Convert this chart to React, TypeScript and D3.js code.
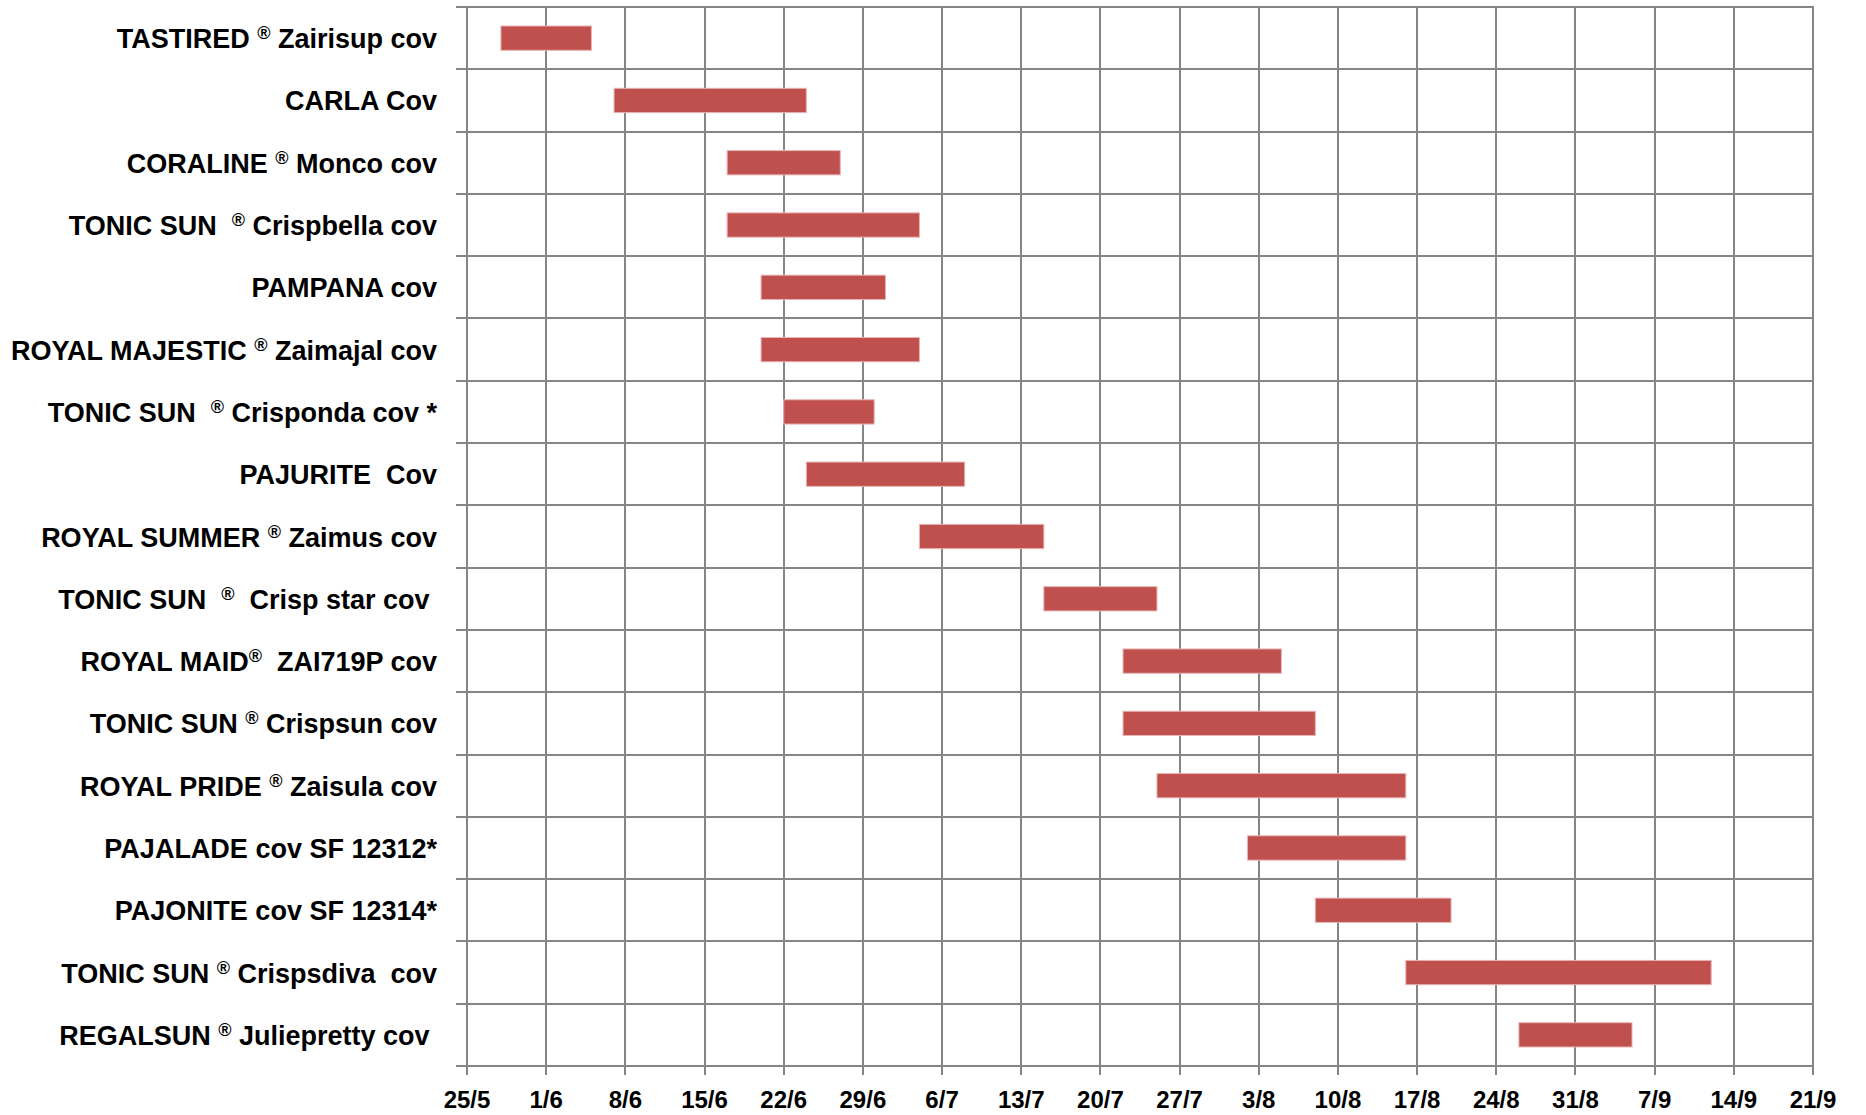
import { useEffect, useRef } from "react";
import * as d3 from "d3";

// varieties, top to bottom
const varieties = [
  "TASTIRED ® Zairisup cov",
  "CARLA Cov",
  "CORALINE ® Monco cov",
  "TONIC SUN  ® Crispbella cov",
  "PAMPANA cov",
  "ROYAL MAJESTIC ® Zaimajal cov",
  "TONIC SUN  ® Crisponda cov *",
  "PAJURITE  Cov",
  "ROYAL SUMMER ® Zaimus cov",
  "TONIC SUN  ®  Crisp star cov ",
  "ROYAL MAID®  ZAI719P cov",
  "TONIC SUN ® Crispsun cov",
  "ROYAL PRIDE ® Zaisula cov",
  "PAJALADE cov SF 12312*",
  "PAJONITE cov SF 12314*",
  "TONIC SUN ® Crispsdiva  cov",
  "REGALSUN ® Juliepretty cov ",
];

// harvest window (day/month)
const startDates = [
  "28/5", "7/6", "17/6", "17/6", "20/6", "20/6", "22/6", "24/6", "4/7",
  "15/7", "22/7", "22/7", "25/7", "2/8", "8/8", "16/8", "26/8",
];
const endDates = [
  "5/6", "24/6", "27/6", "4/7", "1/7", "4/7", "30/6", "8/7", "15/7",
  "25/7", "5/8", "8/8", "16/8", "16/8", "20/8", "12/9", "5/9",
];

const tickLabels = [
  "25/5", "1/6", "8/6", "15/6", "22/6", "29/6", "6/7", "13/7", "20/7",
  "27/7", "3/8", "10/8", "17/8", "24/8", "31/8", "7/9", "14/9", "21/9",
];

const parse = (s: string) => d3.utcParse("%d/%m/%Y")(`${s}/2013`) as Date;

export default function App() {
  const svgRef = useRef<SVGSVGElement>(null);
  const width = 1866;
  const height = 1115;

  useEffect(() => {
    if (!svgRef.current) return;
    const svg = d3.select(svgRef.current);
    svg.selectAll("*").remove();

    const left = 467;
    const right = 1813;
    const top = 7;
    const bottom = 1066;
    const grid = "#858585";
    const font = "'Liberation Sans', Arial, sans-serif";

    const ticks = tickLabels.map(parse);
    const x = d3
      .scaleUtc()
      .domain([ticks[0], ticks[ticks.length - 1]])
      .range([left, right]);
    const y = d3
      .scaleBand<string>()
      .domain(varieties)
      .range([top, bottom])
      .paddingInner(0.61)
      .paddingOuter(0.305);
    const rowStep = (bottom - top) / varieties.length;

    const g = svg.append("g");

    // vertical gridlines + x ticks
    g.selectAll("line.vgrid")
      .data(ticks)
      .join("line")
      .attr("x1", (d) => Math.round(x(d)))
      .attr("x2", (d) => Math.round(x(d)))
      .attr("y1", top)
      .attr("y2", bottom + 9)
      .attr("stroke", grid)
      .attr("stroke-width", 2);

    // horizontal gridlines + y ticks
    const rowEdges = d3.range(varieties.length + 1).map((i) => Math.round(top + i * rowStep));
    g.selectAll("line.hgrid")
      .data(rowEdges)
      .join("line")
      .attr("x1", left - 11)
      .attr("x2", right + 1)
      .attr("y1", (d) => d)
      .attr("y2", (d) => d)
      .attr("stroke", grid)
      .attr("stroke-width", 2);

    // bars
    g.selectAll("rect.bar")
      .data(varieties)
      .join("rect")
      .attr("x", (_, i) => x(parse(startDates[i])))
      .attr("y", (d) => y(d) as number)
      .attr("width", (_, i) => x(parse(endDates[i])) - x(parse(startDates[i])))
      .attr("height", y.bandwidth())
      .attr("fill", "#C0504D")
      .attr("stroke", "#E8B4B3")
      .attr("stroke-width", 1);

    // category labels
    const labels = g
      .selectAll("text.cat")
      .data(varieties)
      .join("text")
      .attr("x", 437)
      .attr("y", (d) => (y(d) as number) + y.bandwidth() / 2 + 10)
      .attr("text-anchor", "end")
      .attr("font-family", font)
      .attr("font-weight", "bold")
      .attr("font-size", 27)
      .attr("fill", "#000")
      .style("white-space", "pre");

    labels.each(function (d) {
      const t = d3.select(this);
      const parts = d.split("®");
      parts.forEach((p, k) => {
        if (k > 0) {
          t.append("tspan")
            .attr("font-size", 18)
            .attr("dy", -9)
            .text("®");
          t.append("tspan").attr("dy", 9).text(p);
        } else {
          t.append("tspan").text(p);
        }
      });
    });

    // x tick labels
    g.selectAll("text.tick")
      .data(ticks)
      .join("text")
      .attr("x", (d) => x(d))
      .attr("y", 1108)
      .attr("text-anchor", "middle")
      .attr("font-family", font)
      .attr("font-weight", "bold")
      .attr("font-size", 24)
      .attr("fill", "#000")
      .text((_, i) => tickLabels[i]);
  }, []);

  return (
    <svg
      ref={svgRef}
      width={width}
      height={height}
      viewBox={`0 0 ${width} ${height}`}
      style={{ position: "absolute", left: 0, top: 0, background: "#fff" }}
    />
  );
}
